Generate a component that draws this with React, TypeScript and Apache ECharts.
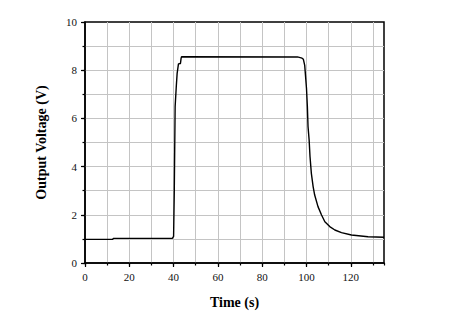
import React, { useEffect, useRef } from "react";
import * as echarts from "echarts";

const timeValues = [0, 12.5, 12.8, 39.5, 40.0, 40.3, 40.7, 41.2, 41.6, 42.2, 43.1, 43.4, 43.6, 95.9, 98.0, 98.6, 99.2, 100.0, 100.4, 100.7, 101.2, 101.6, 102.2, 103.0, 103.7, 105.2, 106.8, 108.3, 110.5, 112.8, 115.8, 120.3, 127.8, 135];
const voltageValues = [0.98, 0.98, 1.02, 1.03, 1.1, 2.9, 6.5, 7.3, 7.87, 8.26, 8.28, 8.5, 8.56, 8.55, 8.5, 8.45, 8.2, 7.25, 6.49, 5.66, 5.1, 4.41, 3.72, 3.17, 2.82, 2.34, 1.99, 1.71, 1.51, 1.37, 1.26, 1.16, 1.09, 1.07];

const xMin = 0;
const xMax = 135;
const xMajor = 20;
const xMinor = 10;
const yMin = 0;
const yMax = 10;
const yMajor = 2;
const yMinor = 1;
const xTitle = "Time (s)";
const yTitle = "Output Voltage (V)";

const serif = "'Liberation Serif', 'Times New Roman', serif";
const gridGray = "#c4c4c4";

export default function App() {
  const ref = useRef<HTMLDivElement>(null);
  useEffect(() => {
    if (!ref.current) return;
    const chart = echarts.init(ref.current, undefined, { renderer: "svg" });
    const data = timeValues.map((t, i) => [t, voltageValues[i]]);
    const labelStyle = { fontFamily: serif, fontSize: 11, color: "#111" };
    chart.setOption({
      animation: false,
      backgroundColor: "#fff",
      grid: {
        left: 85,
        top: 22,
        right: 77,
        bottom: 59,
        show: true,
        borderColor: "#000",
        borderWidth: 1.5,
        backgroundColor: "transparent",
        containLabel: false,
        outerBoundsMode: "none",
      },
      xAxis: [
        {
          type: "value",
          min: xMin,
          max: xMax,
          interval: xMajor,
          position: "bottom",
          name: xTitle,
          nameLocation: "middle",
          nameGap: 32,
          nameTextStyle: { fontFamily: serif, fontSize: 14, fontWeight: "bold", color: "#000" },
          axisLine: { show: true, lineStyle: { color: "#000", width: 1.5 } },
          axisTick: { show: true, inside: false, length: 4, lineStyle: { color: "#000", width: 1.2 } },
          axisLabel: { ...labelStyle, margin: 8, showMaxLabel: false },
          splitLine: { show: true, showMinLine: false, showMaxLine: false, lineStyle: { color: gridGray, width: 1, type: [4, 2, 1, 2] } },
          z: 3,
        },
        {
          type: "value",
          min: xMin,
          max: xMax,
          interval: xMinor,
          position: "bottom",
          axisLine: { show: false },
          axisTick: { show: true, inside: false, length: 2.5, lineStyle: { color: "#000", width: 1.2 } },
          axisLabel: { show: false },
          splitLine: { show: true, showMinLine: false, showMaxLine: false, lineStyle: { color: gridGray, width: 1, type: "solid" } },
          z: 2,
        },
      ],
      yAxis: [
        {
          type: "value",
          min: yMin,
          max: yMax,
          interval: yMajor,
          position: "left",
          name: yTitle,
          nameLocation: "middle",
          nameGap: 37,
          nameRotate: 90,
          nameTextStyle: { fontFamily: serif, fontSize: 14, fontWeight: "bold", color: "#000" },
          axisLine: { show: true, lineStyle: { color: "#000", width: 1.5 } },
          axisTick: { show: true, inside: false, length: 4, lineStyle: { color: "#000", width: 1.2 } },
          axisLabel: { ...labelStyle, margin: 8 },
          splitLine: { show: true, showMinLine: false, showMaxLine: false, lineStyle: { color: gridGray, width: 1, type: [4, 2, 1, 2] } },
          z: 3,
        },
        {
          type: "value",
          min: yMin,
          max: yMax,
          interval: yMinor,
          position: "left",
          axisLine: { show: false },
          axisTick: { show: true, inside: false, length: 2.5, lineStyle: { color: "#000", width: 1.2 } },
          axisLabel: { show: false },
          splitLine: { show: true, showMinLine: false, showMaxLine: false, lineStyle: { color: gridGray, width: 1, type: "solid" } },
          z: 2,
        },
      ],
      series: [
        {
          type: "line",
          xAxisIndex: 0,
          yAxisIndex: 0,
          data,
          showSymbol: false,
          symbol: "none",
          lineStyle: { color: "#000", width: 1.4 },
          z: 5,
        },
      ],
    });
    return () => chart.dispose();
  }, []);
  return (
    <div
      ref={ref}
      style={{ position: "fixed", left: 0, top: 0, width: 461, height: 322, background: "#fff" }}
    />
  );
}
